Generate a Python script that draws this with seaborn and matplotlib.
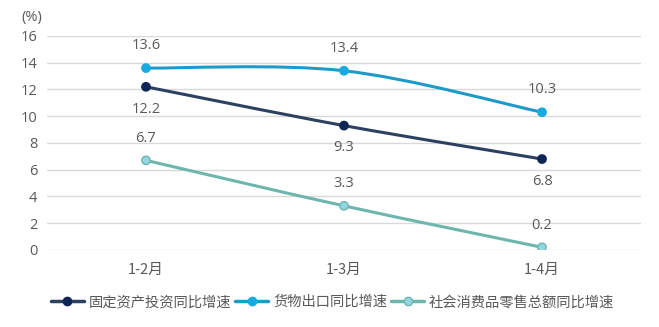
import matplotlib
matplotlib.use("Agg")
import matplotlib.pyplot as plt
import seaborn as sns
import pandas as pd
import numpy as np
from matplotlib.path import Path
from matplotlib.patches import PathPatch
from matplotlib.lines import Line2D

categories = ["1-2月", "1-3月", "1-4月"]
series_names = ["固定资产投资同比增速", "货物出口同比增速", "社会消费品零售总额同比增速"]
fixed_invest = [12.2, 9.3, 6.8]
exports = [13.6, 13.4, 10.3]
retail = [6.7, 3.3, 0.2]
y_ticks = [0, 2, 4, 6, 8, 10, 12, 14, 16]

sns.set_theme(style="white")
plt.rcParams['font.family'] = ['Noto Sans CJK SC', 'DejaVu Sans']

line_colors = ["#2C4160", "#1E9AC9", "#6DB6AE"]
marker_fill = ["#0C2456", "#17AAE1", "#93D6E3"]
marker_edge = ["#0C2456", "#17AAE1", "#6DB6AE"]
label_pos = ["below", "above", "above"]
text_color = "#595959"
num_font = ['Open Sans', 'DejaVu Sans']

df = pd.DataFrame({
    "cat": categories * 3,
    "x": list(range(len(categories))) * 3,
    "value": fixed_invest + exports + retail,
    "series": [s for s in series_names for _ in categories],
})

fig = plt.figure(figsize=(6.59, 3.27), dpi=100)
ax = fig.add_axes([0.0713, 0.2355, 0.9014, 0.6545])


def smooth_path(xs, ys):
    pts = np.column_stack([xs, ys]).astype(float)
    n = len(pts)
    verts = [pts[0]]
    codes = [Path.MOVETO]
    for i in range(n - 1):
        p0 = pts[i - 1] if i > 0 else pts[i]
        p1 = pts[i]
        p2 = pts[i + 1]
        p3 = pts[i + 2] if i + 2 < n else pts[i + 1]
        c1 = p1 + (p2 - p0) / 6.0
        c2 = p2 - (p3 - p1) / 6.0
        verts += [c1, c2, p2]
        codes += [Path.CURVE4] * 3
    return Path(verts, codes)


for i, name in enumerate(series_names):
    sub = df[df["series"] == name]
    patch = PathPatch(smooth_path(sub["x"].values, sub["value"].values),
                      facecolor="none", edgecolor=line_colors[i], lw=2.2,
                      zorder=3, capstyle="round", joinstyle="round")
    ax.add_patch(patch)

sns.scatterplot(data=df, x="x", y="value", hue="series", hue_order=series_names,
                palette=marker_fill, s=36, linewidth=1.0, zorder=4,
                legend=False, ax=ax)
coll = ax.collections[-1]
coll.set_edgecolors([marker_edge[series_names.index(s)] for s in df["series"]])

for i, name in enumerate(series_names):
    sub = df[df["series"] == name]
    for x, v in zip(sub["x"], sub["value"]):
        off = 16 if label_pos[i] == "above" else -16
        ax.annotate(f"{v:.1f}", (x, v), xytext=(0, off), textcoords="offset points",
                    ha="center", va="center", fontsize=10.5, color=text_color,
                    family=num_font)

ax.set_xlim(-0.5, 2.5)
ax.set_ylim(0, 16)
ax.set_yticks(y_ticks)
ax.set_yticklabels([str(t) for t in y_ticks], family=num_font)
ax.set_xticks(range(len(categories)))
ax.set_xticklabels(categories)
ax.tick_params(axis="y", length=0, pad=7, labelsize=10.5, labelcolor=text_color)
ax.tick_params(axis="x", length=0, pad=9.5, labelsize=10.5, labelcolor=text_color)
ax.set_xlabel("")
ax.set_ylabel("")
ax.grid(axis="y", color="#D9D9D9", lw=1)
ax.set_axisbelow(True)
for s in ax.spines.values():
    s.set_visible(False)

fig.text(0.033, 0.947, "(%)", fontsize=10.5, color=text_color, ha="left", va="center",
         family=num_font)

handles = [Line2D([0], [0], color=line_colors[i], lw=2.5, marker="o", markersize=6,
                  markerfacecolor=marker_fill[i], markeredgecolor=marker_edge[i])
           for i in range(3)]
fig.legend(handles, series_names, loc="center", bbox_to_anchor=(0.5045, 0.076), ncol=3,
           frameon=False, fontsize=10.3, handlelength=2.3, handletextpad=0.35,
           columnspacing=0.28, labelcolor=text_color, borderaxespad=0, borderpad=0)

fig.savefig("out.png", dpi=100)
